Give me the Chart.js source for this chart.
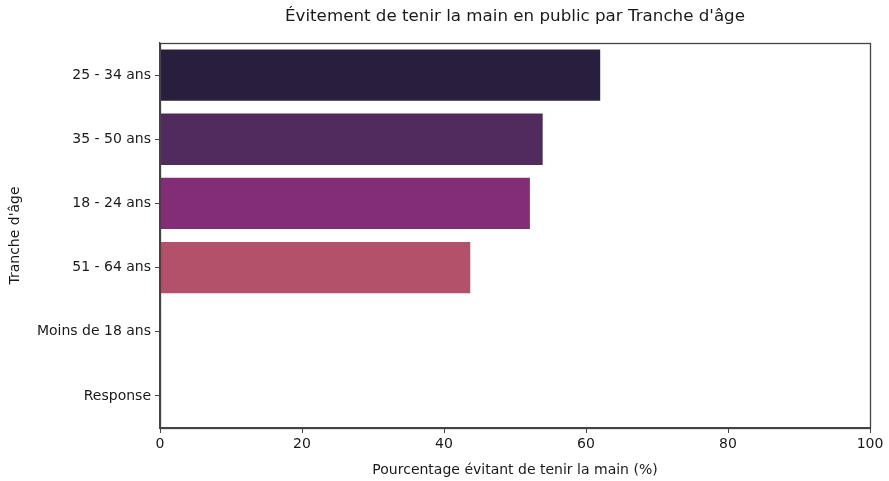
<!DOCTYPE html>
<html>
<head>
<meta charset="utf-8">
<script src="https://cdn.jsdelivr.net/npm/chart.js@4"></script>
<style>
  html, body { margin: 0; padding: 0; background: #fff; }
  #wrap { width: 889px; height: 481px; }
</style>
</head>
<body>
<div id="wrap"><canvas id="ageChart" width="889" height="481"></canvas></div>
<script>
// tranche d'âge, trié par pourcentage décroissant
const categories = ['25 - 34 ans', '35 - 50 ans', '18 - 24 ans', '51 - 64 ans', 'Moins de 18 ans', 'Response'];
const percentages = [62.0, 53.9, 52.1, 43.7, 0, 0];
const barColors = ['#2a1e3f', '#512b5e', '#822d75', '#b3506a', '#d9735e', '#e8a070'];
const xTicks = [0, 20, 40, 60, 80, 100];
const chartTitle = "Évitement de tenir la main en public par Tranche d'âge";

const font = 'DejaVu Sans';
const ink = '#1a1a1a';
const spine = '#444444';

// matplotlib draws all four spines, and centres the title over the axes
const frameBox = {
  id: 'frameBox',
  afterDraw(chart) {
    const a = chart.chartArea;
    const c = chart.ctx;
    c.save();
    c.strokeStyle = spine;
    c.lineWidth = 1.3;
    c.strokeRect(Math.round(a.left) + 0.5, Math.round(a.top) + 0.5,
      Math.round(a.right - a.left), Math.round(a.bottom - a.top));
    c.fillStyle = ink;
    c.font = '16.7px "' + font + '"';
    c.textAlign = 'center';
    c.textBaseline = 'middle';
    c.fillText(chartTitle, (a.left + a.right) / 2, 17);
    c.restore();
  }
};

new Chart(document.getElementById('ageChart'), {
  type: 'bar',
  data: {
    labels: categories,
    datasets: [{
      label: 'Pourcentage',
      data: percentages,
      backgroundColor: barColors,
      borderWidth: 0,
      barPercentage: 0.8,
      categoryPercentage: 1.0
    }]
  },
  options: {
    indexAxis: 'y',
    responsive: false,
    animation: false,
    layout: { padding: { left: 0, right: 19, top: 43, bottom: 0 } },
    plugins: {
      legend: { display: false },
      tooltip: { enabled: false },
      title: { display: false }
    },
    scales: {
      x: {
        min: 0,
        max: 100,
        afterBuildTicks(scale) {
          scale.ticks = xTicks.map(v => ({ value: v }));
        },
        afterFit(scale) { scale.height = 53; },
        grid: {
          drawOnChartArea: false,
          drawTicks: true,
          tickLength: 5,
          color: spine
        },
        border: { color: spine, width: 1.3 },
        ticks: {
          color: ink,
          font: { family: font, size: 14 },
          padding: 3,
          maxRotation: 0
        },
        title: {
          display: true,
          text: 'Pourcentage évitant de tenir la main (%)',
          color: ink,
          font: { family: font, size: 14 },
          padding: { top: 0, bottom: 2 }
        }
      },
      y: {
        afterFit(scale) { scale.width = 160; },
        grid: {
          offset: false,
          drawOnChartArea: false,
          drawTicks: true,
          tickLength: 5,
          color: spine
        },
        border: { color: spine, width: 1.3 },
        ticks: {
          color: ink,
          font: { family: font, size: 14 },
          padding: 4
        },
        title: {
          display: true,
          text: "Tranche d'âge",
          color: ink,
          font: { family: font, size: 14 },
          padding: { top: 7, bottom: 0 }
        }
      }
    }
  },
  plugins: [frameBox]
});
</script>
</body>
</html>
